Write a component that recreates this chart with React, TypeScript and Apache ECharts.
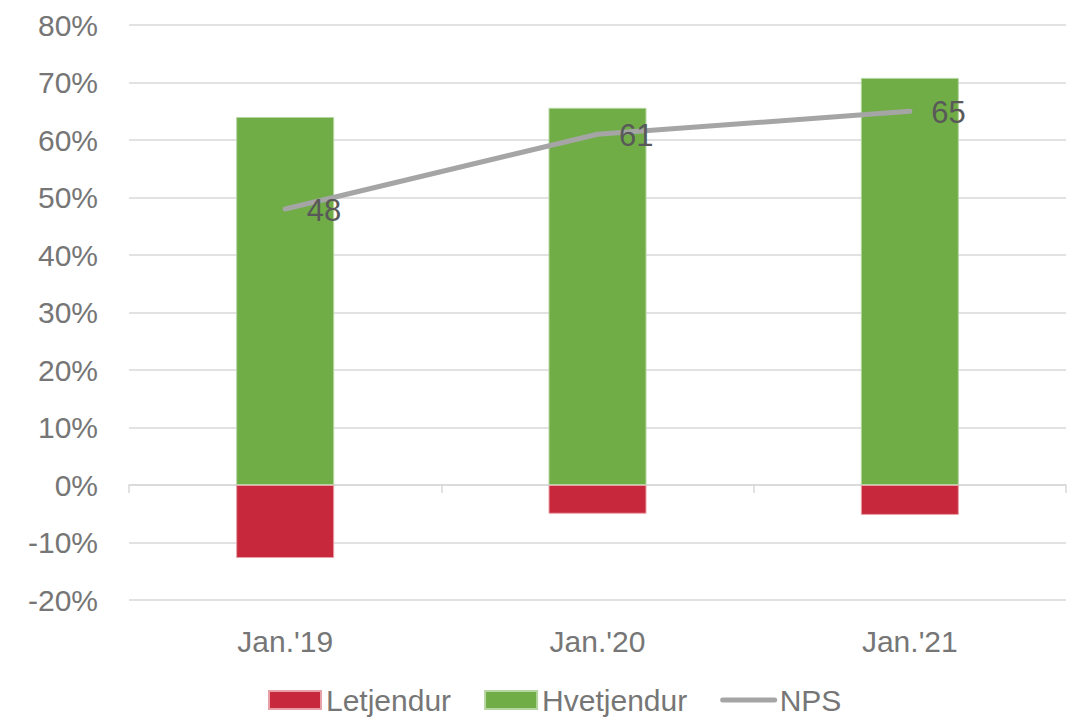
import React, { useEffect, useRef } from "react";
import * as echarts from "echarts";

const categories = ["Jan.'19", "Jan.'20", "Jan.'21"];
const letjendur = [-12.7, -5.0, -5.2];
const hvetjendur = [64.0, 65.6, 70.8];
const nps = [48, 61, 65];

export default function App() {
  const ref = useRef<HTMLDivElement>(null);
  useEffect(() => {
    if (!ref.current) return;
    const chart = echarts.init(ref.current, undefined, { renderer: "svg" });
    const font = "'Liberation Sans', Arial, sans-serif";
    chart.setOption({
      animation: false,
      textStyle: { fontFamily: font },
      grid: {
        left: 129,
        right: 5,
        top: 25,
        bottom: 121,
        containLabel: false,
        outerBoundsMode: "none",
      },
      legend: {
        bottom: 1,
        left: 263,
        itemWidth: 52,
        itemHeight: 18,
        itemGap: 33,
        textStyle: { fontSize: 30, color: "#767676", fontFamily: font },
        data: [
          { name: "Letjendur", icon: "rect" },
          { name: "Hvetjendur", icon: "rect" },
          { name: "NPS", itemStyle: { opacity: 0 }, lineStyle: { width: 5, color: "#a5a5a5" } },
        ],
      },
      xAxis: {
        type: "category",
        data: categories,
        axisLine: { onZero: true, lineStyle: { color: "#d9d9d9", width: 1.5 } },
        axisTick: { show: true, length: 8, lineStyle: { color: "#d9d9d9", width: 1.5 } },
        axisLabel: { margin: 26, fontSize: 30, color: "#767676", fontFamily: font },
      },
      yAxis: {
        type: "value",
        min: -20,
        max: 80,
        interval: 10,
        axisLine: { show: false },
        axisTick: { show: false },
        axisLabel: { formatter: "{value}%", fontSize: 30, color: "#767676", margin: 31, fontFamily: font },
        splitLine: { lineStyle: { color: "#d9d9d9", width: 1.5 } },
      },
      series: [
        {
          name: "Letjendur",
          type: "bar",
          stack: "s",
          data: letjendur,
          barWidth: 98,
          itemStyle: { color: "#c8283c", borderColor: "#e8a0a8", borderWidth: 1 },
        },
        {
          name: "Hvetjendur",
          type: "bar",
          stack: "s",
          data: hvetjendur,
          barWidth: 98,
          itemStyle: { color: "#70ad47", borderColor: "#b5d6a0", borderWidth: 1 },
        },
        {
          name: "NPS",
          type: "line",
          data: nps,
          symbol: "circle",
          symbolSize: 1,
          lineStyle: { color: "#a5a5a5", width: 5, cap: "round" },
          itemStyle: { color: "#a5a5a5" },
          label: {
            show: true,
            position: "right",
            distance: 21,
            offset: [0, 1],
            fontSize: 31,
            color: "#595959",
            fontFamily: font,
          },
        },
      ],
    });
    return () => chart.dispose();
  }, []);
  return <div ref={ref} style={{ width: 1071, height: 721, position: "absolute", left: 0, top: 0 }} />;
}
